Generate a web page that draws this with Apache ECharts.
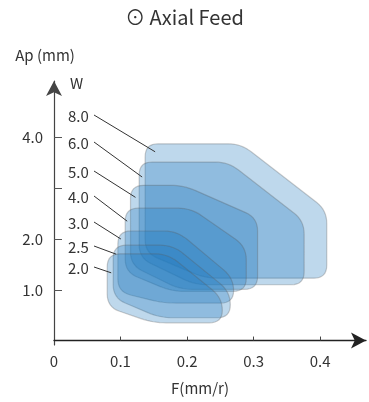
<!DOCTYPE html>
<html>
<head>
<meta charset="utf-8">
<script src="https://cdn.jsdelivr.net/npm/echarts@6/dist/echarts.min.js"></script>
<style>
  html, body { margin: 0; padding: 0; background: #fff; }
  #main { width: 369px; height: 402px; }
</style>
</head>
<body>
<div id="main"></div>
<script>
// W 标签，从大到小画，小区域叠在上面
var widthLabels = ['8.0', '6.0', '5.0', '4.0', '3.0', '2.5', '2.0'];

// 各区域轮廓 [F, Ap]：左上、右上折角两点、右下、左下折角两点
var zoneW80 = [[0.137, 3.88], [0.281, 3.88], [0.410, 2.57], [0.410, 1.23], [0.227, 1.23], [0.137, 1.73]];
var zoneW60 = [[0.128, 3.52], [0.262, 3.52], [0.376, 2.36], [0.376, 1.10], [0.212, 1.10], [0.128, 1.63]];
var zoneW50 = [[0.115, 3.06], [0.195, 3.06], [0.306, 2.42], [0.306, 1.01], [0.189, 1.01], [0.115, 1.49]];
var zoneW40 = [[0.107, 2.61], [0.206, 2.61], [0.289, 1.85], [0.289, 0.97], [0.177, 0.97], [0.107, 1.35]];
var zoneW30 = [[0.096, 2.16], [0.185, 2.16], [0.270, 1.23], [0.270, 0.74], [0.164, 0.74], [0.096, 0.96]];
var zoneW25 = [[0.089, 1.88], [0.179, 1.88], [0.265, 0.96], [0.265, 0.45], [0.159, 0.45], [0.089, 0.84]];
var zoneW20 = [[0.080, 1.71], [0.171, 1.71], [0.253, 0.84], [0.253, 0.35], [0.149, 0.35], [0.080, 0.66]];
var zones = [zoneW80, zoneW60, zoneW50, zoneW40, zoneW30, zoneW25, zoneW20];

// 坐标轴刻度
var xTicks = [0.1, 0.2, 0.3, 0.4];
var xLabels = [0, 0.1, 0.2, 0.3, 0.4];
var yTicks = [1, 2, 3, 4];
var yLabels = [1, 2, 4];

// 标签摆放（像素），引线终点相对左上角的偏移
var labelTop = [116, 143, 172, 197, 223, 247, 268];
var pointerOff = [[10, 8], [3, 15], [5, 12], [2, 13], [3, 8], [3, 9], [4, 19]];

var FONT = '"Noto Sans CJK SC", "Noto Sans", sans-serif';

// 圆角多边形，用二次曲线采样
function roundPoly(pts, r) {
  var out = [];
  var n = pts.length;
  for (var i = 0; i < n; i++) {
    var p0 = pts[(i - 1 + n) % n], p1 = pts[i], p2 = pts[(i + 1) % n];
    var d1 = Math.hypot(p1[0] - p0[0], p1[1] - p0[1]);
    var d2 = Math.hypot(p2[0] - p1[0], p2[1] - p1[1]);
    var r1 = Math.min(r, d1 / 2), r2 = Math.min(r, d2 / 2);
    var a = [p1[0] + (p0[0] - p1[0]) * r1 / d1, p1[1] + (p0[1] - p1[1]) * r1 / d1];
    var b = [p1[0] + (p2[0] - p1[0]) * r2 / d2, p1[1] + (p2[1] - p1[1]) * r2 / d2];
    for (var k = 0; k <= 8; k++) {
      var t = k / 8, u = 1 - t;
      out.push([
        u * u * a[0] + 2 * u * t * p1[0] + t * t * b[0],
        u * u * a[1] + 2 * u * t * p1[1] + t * t * b[1]
      ]);
    }
  }
  return out;
}

var chart = echarts.init(document.getElementById('main'));

var option = {
  animation: false,
  title: {
    text: '⊙ Axial Feed',
    left: 'center',
    top: 7,
    padding: 0,
    textStyle: { fontFamily: FONT, fontSize: 20, fontWeight: 'normal', color: '#333' }
  },
  grid: { left: 54, right: 3, top: 81, bottom: 57 },
  xAxis: {
    type: 'value',
    min: 0,
    max: 0.469,
    splitLine: { show: false },
    axisLine: {
      lineStyle: { color: '#222', width: 1.3 },
      symbol: ['none', 'arrow'],
      symbolSize: [12, 15]
    },
    axisTick: { inside: true, length: 4, customValues: xTicks, lineStyle: { color: '#444' } },
    axisLabel: {
      customValues: xLabels,
      margin: 9,
      color: '#333',
      fontFamily: FONT,
      fontSize: 15,
      formatter: function (v) { return v === 0 ? '0' : v.toFixed(1); }
    }
  },
  yAxis: {
    type: 'value',
    min: -0.0876,
    max: 5.118,
    splitLine: { show: false },
    axisLine: {
      lineStyle: { color: '#444', width: 1.2 },
      symbol: ['none', 'arrow'],
      symbolSize: [12, 15]
    },
    axisTick: { inside: true, length: 8, customValues: yTicks, lineStyle: { color: '#555' } },
    axisLabel: {
      customValues: yLabels,
      margin: 11,
      color: '#333',
      fontFamily: FONT,
      fontSize: 15,
      formatter: function (v) { return v.toFixed(1); }
    }
  },
  graphic: [
    { type: 'text', x: 45, y: 55, style: { text: 'Ap (mm)', fill: '#333', font: '15px ' + FONT, align: 'center', verticalAlign: 'middle' } },
    { type: 'text', x: 70, y: 83, style: { text: 'W', fill: '#333', font: '15px ' + FONT, align: 'left', verticalAlign: 'middle' } },
    { type: 'text', x: 200, y: 388, style: { text: 'F(mm/r)', fill: '#333', font: '15px ' + FONT, align: 'center', verticalAlign: 'middle' } }
  ],
  series: [{
    type: 'custom',
    coordinateSystem: 'cartesian2d',
    encode: { x: 0, y: 1 },
    data: zones.map(function (z) { return z[0]; }),
    renderItem: function (params, api) {
      var i = params.dataIndex;
      var px = zones[i].map(function (p) { return api.coord(p); });
      var tl = px[0];
      var ly = labelTop[i];
      return {
        type: 'group',
        children: [
          {
            type: 'polygon',
            shape: { points: roundPoly(px, 13) },
            style: { fill: 'rgba(31,119,190,0.29)', stroke: 'rgba(90,90,90,0.3)', lineWidth: 1.2 }
          },
          {
            type: 'line',
            z2: 10,
            shape: { x1: 94, y1: ly - 1, x2: tl[0] + pointerOff[i][0], y2: tl[1] + pointerOff[i][1] },
            style: { stroke: '#333', lineWidth: 1 }
          },
          {
            type: 'text',
            x: 68,
            y: ly,
            style: { text: widthLabels[i], fill: '#333', font: '15px ' + FONT, align: 'left', verticalAlign: 'middle' }
          }
        ]
      };
    }
  }]
};

chart.setOption(option);
</script>
</body>
</html>
